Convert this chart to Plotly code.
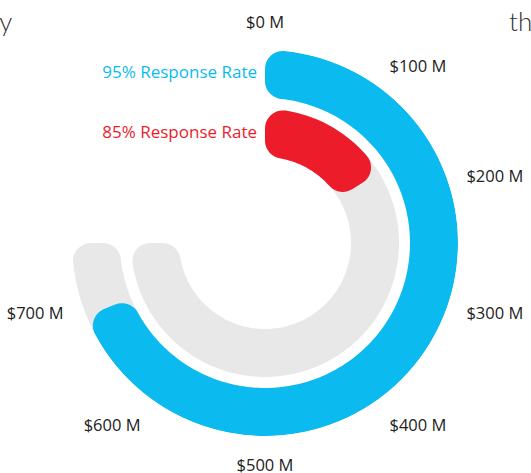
import math
import plotly.graph_objects as go

# ---- data ----
categories = ["95% Response Rate", "85% Response Rate"]
values = [688, 162]
max_value = 750
tick_values = [0, 100, 200, 300, 400, 500, 600, 700]
tick_labels = ["$0 M", "$100 M", "$200 M", "$300 M", "$400 M", "$500 M", "$600 M", "$700 M"]
bar_colors = ["#0BBBEF", "#ED1C2B"]
track_color = "#E8E8E8"

# ---- geometry / style ----
W, H = 531, 473
CX, CY = 265, 243
R_OUT = 193
rings = [(145, 193), (86, 134)]  # (inner, outer) radius per category
CORNER = 18
SWEEP = 270.0
scale = SWEEP / max_value  # degrees per unit value
FONT = "Open Sans"
LABEL_GAP = 8  # px gap between category label and bar start


def to_xy(r, t):
    a = math.radians(t)
    return r * math.sin(a), r * math.cos(a)


def to_polar(x, y):
    return math.hypot(x, y), math.degrees(math.atan2(x, y))


def arc_pts(cx, cy, rad, a0, a1, n=10):
    d = a1 - a0
    while d > math.pi:
        d -= 2 * math.pi
    while d < -math.pi:
        d += 2 * math.pi
    return [(cx + rad * math.cos(a0 + d * i / n), cy + rad * math.sin(a0 + d * i / n)) for i in range(n + 1)]


def corner(rc, t_line, sign, rad_circle, cr):
    d = math.degrees(math.asin(cr / rc))
    tc = t_line + sign * d
    cx, cy = to_xy(rc, tc)
    k = rad_circle / rc
    p_circ = (cx * k, cy * k)
    ux, uy = to_xy(1, t_line)
    proj = cx * ux + cy * uy
    p_line = (ux * proj, uy * proj)
    return (cx, cy), p_circ, p_line


def ang(p, c):
    return math.atan2(p[1] - c[1], p[0] - c[0])


def rounded_sector(t0, t1, r0, r1, cr):
    pts = []
    c1, pc1, pl1 = corner(r1 - cr, t0, +1, r1, cr)
    c2, pc2, pl2 = corner(r1 - cr, t1, -1, r1, cr)
    c3, pc3, pl3 = corner(r0 + cr, t1, -1, r0, cr)
    c4, pc4, pl4 = corner(r0 + cr, t0, +1, r0, cr)
    pts += arc_pts(c1[0], c1[1], cr, ang(pl1, c1), ang(pc1, c1))
    ta, tb = to_polar(*pc1)[1], to_polar(*pc2)[1]
    if tb < ta:
        tb += 360
    n = max(2, int((tb - ta) / 1.5))
    pts += [to_xy(r1, ta + (tb - ta) * i / n) for i in range(n + 1)]
    pts += arc_pts(c2[0], c2[1], cr, ang(pc2, c2), ang(pl2, c2))
    pts += arc_pts(c3[0], c3[1], cr, ang(pl3, c3), ang(pc3, c3))
    ta, tb = to_polar(*pc3)[1], to_polar(*pc4)[1]
    if ta < tb:
        ta += 360
    n = max(2, int((ta - tb) / 1.5))
    pts += [to_xy(r0, ta + (tb - ta) * i / n) for i in range(n + 1)]
    pts += arc_pts(c4[0], c4[1], cr, ang(pc4, c4), ang(pl4, c4))
    pts.append(pts[0])
    rs, ts = zip(*[to_polar(x, y) for x, y in pts])
    return list(rs), list(ts)


fig = go.Figure()

# background tracks
for (r0, r1) in rings:
    rs, ts = rounded_sector(0, max_value * scale, r0, r1, CORNER)
    fig.add_trace(go.Scatterpolar(r=rs, theta=ts, mode="lines", fill="toself",
                                  fillcolor=track_color, line=dict(width=0, color=track_color),
                                  hoverinfo="skip", showlegend=False))

# value bars
for cat, v, col, (r0, r1) in zip(categories, values, bar_colors, rings):
    rs, ts = rounded_sector(0, v * scale, r0, r1, CORNER)
    fig.add_trace(go.Scatterpolar(r=rs, theta=ts, mode="lines", fill="toself",
                                  fillcolor=col, line=dict(width=0, color=col),
                                  name=cat, showlegend=False))

# category labels at the start of each bar
for cat, col, (r0, r1) in zip(categories, bar_colors, rings):
    rm = (r0 + r1) / 2
    fig.add_trace(go.Scatterpolar(r=[rm], theta=[-math.degrees(math.asin(LABEL_GAP / rm))],
                                  mode="text", text=[cat],
                                  textposition="middle left",
                                  textfont=dict(color=col, size=17, family=FONT),
                                  hoverinfo="skip", showlegend=False))

dom_x = [(CX - R_OUT) / W, (CX + R_OUT) / W]
dom_y = [(H - CY - R_OUT) / H, (H - CY + R_OUT) / H]

fig.update_layout(
    width=W, height=H,
    margin=dict(l=0, r=0, t=0, b=0),
    paper_bgcolor="white",
    plot_bgcolor="white",
    font=dict(family=FONT, color="#222222", size=16),
    polar=dict(
        domain=dict(x=dom_x, y=dom_y),
        bgcolor="rgba(0,0,0,0)",
        radialaxis=dict(range=[0, R_OUT], visible=False),
        angularaxis=dict(
            rotation=90, direction="clockwise",
            tickmode="array",
            tickvals=[t * scale for t in tick_values],
            ticktext=tick_labels,
            showgrid=False, showline=False,
            ticks="outside", ticklen=15, tickcolor="rgba(0,0,0,0)",
            tickfont=dict(size=16.5, color="#222222", family=FONT),
        ),
    ),
    annotations=[
        dict(text="ry", x=14 / W, y=1 - 3 / H, xref="paper", yref="paper", xanchor="right", yanchor="top",
             showarrow=False, font=dict(size=26, color="#333333", family="Lato", weight=300)),
        dict(text="th", x=507 / W, y=1 - 3 / H, xref="paper", yref="paper", xanchor="left", yanchor="top",
             showarrow=False, font=dict(size=26, color="#333333", family="Lato", weight=300)),
    ],
)

fig.write_html("out.html", config={"displayModeBar": False},
               post_script="document.body.style.margin='0';document.body.style.overflow='hidden';")
